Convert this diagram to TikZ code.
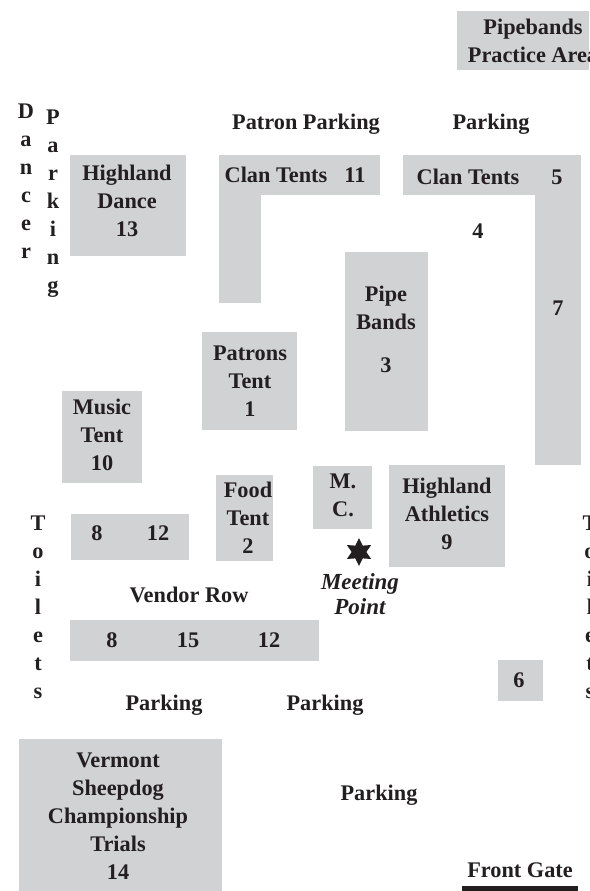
\documentclass[tikz,border=0pt]{standalone}
\usepackage{fontspec}
\setmainfont{Liberation Serif}
\usetikzlibrary{shapes.geometric}
\definecolor{zone}{HTML}{D1D2D4}
\definecolor{ink}{HTML}{231F20}
\tikzset{
 zone/.style={fill=zone,draw=none},
 lab/.style={font=\fontsize{22.3}{28}\selectfont\bfseries,align=center,inner sep=0pt,text=ink},
 ital/.style={font=\fontsize{23}{24.5}\selectfont\bfseries\itshape,align=center,inner sep=0pt,text=ink}
}
\begin{document}
\begin{tikzpicture}[x=1pt,y=-1pt]
\useasboundingbox[fill=white] (0,0) rectangle (589,891);
\clip (0,0) rectangle (589,891);
\fill[zone] (457,11) rectangle (589,70);
\fill[zone] (403,155) rectangle (581,195);
\fill[zone] (535,155) rectangle (581,465);
\fill[zone] (219,155) rectangle (380,195);
\fill[zone] (219,155) rectangle (261,303);
\fill[zone] (70,155) rectangle (186,256);
\fill[zone] (345,252) rectangle (428,431);
\fill[zone] (202,332) rectangle (297,430);
\fill[zone] (62,391) rectangle (142,483);
\fill[zone] (216,475) rectangle (273,561);
\fill[zone] (313,466) rectangle (372,529);
\fill[zone] (389,465) rectangle (505,567);
\fill[zone] (71,514) rectangle (189,560);
\fill[zone] (70,620) rectangle (319,661);
\fill[zone] (498,660) rectangle (543,701);
\fill[zone] (19,739) rectangle (222,891);
\fill[ink] (462,886) rectangle (578,891);
\node[lab] (pb) at (533,40.5) {Pipebands\\Practice Area};
\node[lab] (pp) at (306,124) {Patron Parking};
\node[lab] (p1) at (491,124) {Parking};
\node[lab] (ct1) at (276,175) {Clan Tents};
\node[lab] (n11) at (355,175) {11};
\node[lab] (ct2) at (468,177) {Clan Tents};
\node[lab] (n5) at (557,177) {5};
\node[lab] (n4) at (478,231) {4};
\node[lab] (n7) at (558,308) {7};
\node[lab] (hd) at (127,201) {Highland\\Dance\\13};
\node[lab] (pib) at (386,308) {Pipe\\Bands};
\node[lab] (n3) at (386,365) {3};
\node[lab] (pt) at (250,381) {Patrons\\Tent\\1};
\node[lab] (mt) at (102,434.5) {Music\\Tent\\10};
\node[lab] (ft) at (248,518) {Food\\Tent\\2};
\node[lab] (mc) at (343,495) {M.\\C.};
\node[lab] (ha) at (447,514) {Highland\\Athletics\\9};
\node[lab] (n8a) at (97,533) {8};
\node[lab] (n12a) at (158,533) {12};
\node[lab] (vr) at (189,595) {Vendor Row};
\node[lab] (n8b) at (112,640) {8};
\node[lab] (n15) at (188,640) {15};
\node[lab] (n12b) at (269,640) {12};
\node[ital] (mp) at (360,594) {Meeting\\Point};
\node[star,star points=6,star point ratio=1.9,fill=ink,inner sep=0pt,minimum size=28pt] (mark) at (359,552) {};
\node[lab] (n6) at (519,680) {6};
\node[lab] (p2) at (164,705) {Parking};
\node[lab] (p3) at (325,705) {Parking};
\node[lab] (p4) at (379,795) {Parking};
\node[lab] (vs) at (118,816.5) {Vermont\\Sheepdog\\Championship\\Trials\\14};
\node[lab] (fg) at (520,870) {Front Gate};
\node[lab] (dan) at (26,181) {D\\a\\n\\c\\e\\r};
\node[lab] (par) at (53,204) {P\\a\\r\\k\\i\\n\\g};
\node[lab] (toi) at (38,607) {T\\o\\i\\l\\e\\t\\s};
\node[lab] (toi2) at (590,607) {T\\o\\i\\l\\e\\t\\s};
\end{tikzpicture}
\end{document}
